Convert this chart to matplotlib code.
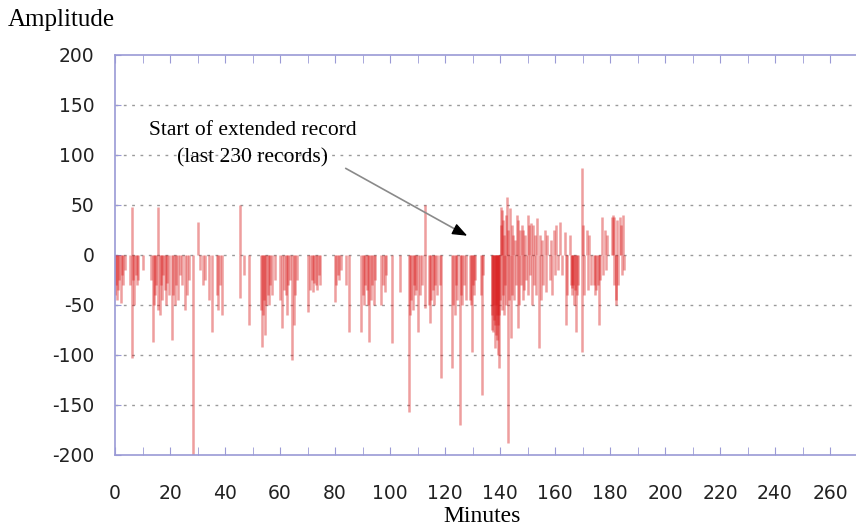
import matplotlib
matplotlib.use("Agg")
import matplotlib.pyplot as plt
from matplotlib.ticker import MultipleLocator

plt.rcParams["axes.unicode_minus"] = False

# records before the extended record (minute, amplitude)
early_minutes = [
    0.0, 0.4, 0.8, 1.2, 1.6, 2.0, 2.5, 3.0, 3.5, 5.5, 6.2, 6.2, 6.6, 7.0, 7.5,
    8.0, 8.5, 10.0, 13.0, 13.8, 14.2, 14.6, 15.0, 15.5, 15.8, 16.2, 16.6, 17.0,
    17.5, 18.0, 18.5, 19.0, 19.5, 20.7, 21.2, 21.7, 22.2, 23.0, 23.5, 24.5,
    25.5, 26.0, 27.0, 28.3, 30.0, 31.0, 32.0, 32.8, 34.0, 35.3, 37.0, 37.5,
    38.0, 38.8, 45.5, 45.5, 47.0, 48.7, 53.0, 53.4, 53.8, 54.2, 54.6, 55.0,
    55.5, 56.0, 56.5, 57.0, 58.0, 60.0, 60.8, 61.3, 62.0, 62.5, 63.0, 63.5,
    64.5, 65.0, 65.5, 66.0, 70.0, 71.0, 71.5, 72.0, 72.5, 73.0, 73.5, 74.0,
    74.5, 80.0, 80.5, 81.0, 81.5, 82.0, 84.0, 85.0, 89.5, 90.0, 90.5, 91.0,
    91.5, 92.0, 92.5, 93.0, 93.5, 94.0, 94.5, 96.8, 97.3, 98.0, 98.5, 100.7,
    103.8, 107.0, 107.4, 107.8, 108.2, 108.6, 109.0, 109.5, 110.3, 110.8,
    111.5, 112.7, 112.7, 114.0, 114.5, 115.0, 115.5, 116.0, 116.5, 117.0,
    118.0, 118.5, 122.5, 123.0, 123.5, 124.0, 124.5, 125.3, 125.8, 126.3,
    127.0, 127.5,
]
early_amplitude = [
    -40, -30, -45, -35, -25, -48, -20, -30, -15, -30, 48, -103, -25, -50, -20,
    -30, -25, -15, -25, -87, -50, -40, -30, 48, -55, -60, -30, -45,
    -20, -35, -50, -28, -40, -85, -40, -50, -30, -45, -20, -30,
    -55, -40, -25, -200, 33, -15, -30, -25, -45, -77, -40, -55,
    -30, -60, 50, -43, -20, -70, -55, -92, -60, -45, -80, -50,
    -40, -50, -30, -40, -25, -45, -73, -35, -40, -60, -30, -25,
    -105, -70, -40, -25, -57, -35, -25, -37, -28, -30, -35, -20,
    -30, -47, -30, -20, -25, -15, -30, -77, -77, -40, -50, -30,
    -35, -50, -87, -45, -30, -50, -25, -50, -30, -37, -20, -88,
    -37, -157, -60, -45, -55, -30, -40, -35, -77, -40,
    -30, 50, -53, -50, -68, -45, -35, -50, -30, -40,
    -30, -123, -113, -50, -60, -30, -45, -170, -40, -50,
    -30, -45,
]

# extended record (last records)
late_minutes = [
    129.0, 129.4, 129.8, 130.2, 130.6, 131.0, 133.0, 133.4, 133.8, 137.0,
    137.2, 137.4, 137.6, 137.8, 138.0, 138.2, 138.4, 138.6, 138.8, 139.0,
    139.2, 139.4, 139.6, 139.8, 140.0, 140.2, 140.4, 140.6, 140.8, 141.0,
    141.2, 141.4, 141.6, 141.8, 142.0, 142.3, 142.6, 142.8, 143.0, 143.3,
    143.6, 143.9, 144.2, 144.5, 144.8, 145.1, 145.4, 145.8, 146.1, 146.4,
    146.7, 147.0, 147.3, 147.6, 147.9, 148.2, 148.5, 148.8, 149.2, 149.6,
    150.0, 150.3, 150.6, 151.0, 151.4, 151.7, 152.0, 152.4, 152.8, 153.2,
    153.6, 154.0, 154.4, 154.8, 155.2, 155.6, 156.4, 156.8, 157.2, 158.0,
    158.6, 159.0, 159.6, 160.0, 160.5, 161.0, 161.8, 162.4, 163.6, 164.0,
    164.4, 165.5, 165.8, 166.0, 166.3, 166.6, 167.0, 167.3, 167.6, 168.0,
    168.3, 169.8, 169.8, 170.3, 170.6, 171.5, 171.9, 172.5, 173.0, 174.0,
    174.5, 175.0, 175.5, 176.0, 176.5, 177.0, 177.4, 178.0, 178.6, 179.0,
    180.7, 181.0, 181.3, 181.5, 182.0, 182.3, 182.7, 183.0, 183.5, 184.0,
    184.4, 184.7, 185.0,
]
late_amplitude = [
    -45, -50, -97, -30, -40, -25, -40, -140, -20, -60,
    -75, -50, -77, -65, -70, -93, -50, -80, -60, -85,
    -100, -70, -113, -60, -45, 48, 30, -55, 45, -40,
    35, -60, 20, -30, 40, -50, 58, -188, 25, -45,
    47, -83, 30, -40, 20, -45, 15, -30, 40, -73,
    35, -50, 25, -30, 30, -45, 25, -35, 20, -25,
    40, -40, 30, -20, 32, -50, 30, -30, 20, -40,
    37, -93, 20, -45, 15, -30, 25, -37, 20, -25,
    15, -40, 25, -20, 30, -15, 33, -20, 23, -70,
    -40, 20, -30, -33, -40, -30, -50, -35, -77, -40,
    -30, 87, -97, 30, -40, 25, -35, 20, -30, -30,
    -40, -35, -30, -70, -25, 38, -20, 25, -15, 20,
    38, 40, -30, 38, -50, -45, 35, -30, 38, 30,
    -20, 40, -15,
]

x_ticks = list(range(0, 261, 20))
y_ticks = [-200, -150, -100, -50, 0, 50, 100, 150, 200]

frame_color = "#9a9ad6"
bar_color = "#d81818"

fig = plt.figure(figsize=(8.56, 5.29), dpi=100)
ax = fig.add_axes([115 / 856, 74 / 529, 270 * 2.75 / 856, 400 / 529])

minutes = early_minutes + late_minutes
amps = early_amplitude + late_amplitude
ax.vlines(minutes, 0, amps, colors=bar_color, linewidth=1.8, alpha=0.42)

ax.set_xlim(0, 270)
ax.set_ylim(-200, 200)

for y in y_ticks[1:-1]:
    ax.axhline(y, color="#9a9a9a", linewidth=1, linestyle=(0, (2, 4)), zorder=0)

for side in ["left", "bottom", "top"]:
    ax.spines[side].set_color(frame_color)
    ax.spines[side].set_linewidth(1.2)
ax.spines["right"].set_visible(False)

ax.set_xticks(x_ticks)
ax.xaxis.set_minor_locator(MultipleLocator(10))
ax.set_yticks(y_ticks)
ax.tick_params(axis="x", which="both", direction="in", top=True, length=6,
               color=frame_color, pad=21, labelsize=13.5, labelcolor="#222222")
ax.tick_params(axis="y", direction="in", length=4, color=frame_color,
               pad=15, labelsize=13.5, labelcolor="#222222")
for lab in ax.get_xticklabels() + ax.get_yticklabels():
    lab.set_fontfamily("DejaVu Sans")

# annotation
ax.text(50, 111, "Start of extended record\n(last 230 records)",
        ha="center", va="center", multialignment="center",
        fontsize=15.5, family="Liberation Serif", linespacing=1.6)
ax.annotate("", xy=(127.5, 20), xytext=(83, 88),
            arrowprops=dict(arrowstyle="-", color="#8a8a8a", lw=1.2))
ax.annotate("", xy=(129, 18), xytext=(124, 25),
            arrowprops=dict(arrowstyle="-|>,head_length=0.9,head_width=0.35",
                            color="black", lw=1))

fig.text(8 / 856, 1 - 20 / 529, "Amplitude", ha="left", va="center",
         fontsize=18, family="Liberation Serif")
fig.text(482 / 856, 12 / 529, "Minutes", ha="center", va="center",
         fontsize=17, family="Liberation Serif")

fig.savefig("out.png", dpi=100)
